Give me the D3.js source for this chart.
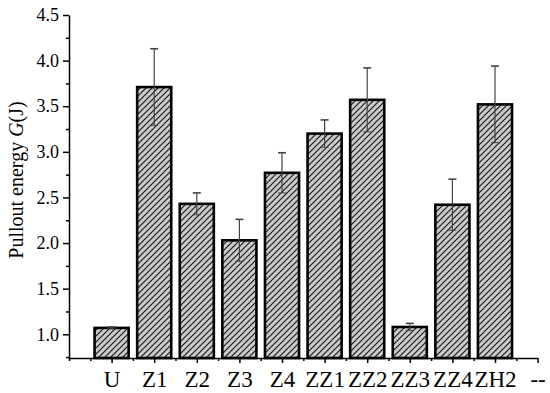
<!DOCTYPE html>
<html>
<head>
<meta charset="utf-8">
<script src="https://cdn.jsdelivr.net/npm/d3@7/dist/d3.min.js"></script>
<style>
  html, body { margin: 0; padding: 0; background: #fff; }
</style>
</head>
<body>
<svg id="chart" width="550" height="393"></svg>
<script>
// ---- data ----
const categories = ["U", "Z1", "Z2", "Z3", "Z4", "ZZ1", "ZZ2", "ZZ3", "ZZ4", "ZH2", "--"];
const values = [1.07, 3.71, 2.43, 2.03, 2.77, 3.20, 3.57, 1.08, 2.42, 3.52];
const errors = [0.01, 0.42, 0.12, 0.23, 0.22, 0.15, 0.35, 0.04, 0.28, 0.42];
const yTicks = [1.0, 1.5, 2.0, 2.5, 3.0, 3.5, 4.0, 4.5];
const yMinorTicks = [0.75, 1.25, 1.75, 2.25, 2.75, 3.25, 3.75, 4.25];

const SERIF = '"Liberation Serif", "Times New Roman", Tinos, serif';
const svg = d3.select("#chart");
const x = d3.scaleLinear().domain([-1, categories.length - 1]).range([69, 537.6]);
const y = d3.scaleLinear().domain([0.74, 4.5]).range([358, 15]);
const step = x(1) - x(0);
const barW = step * 0.8;

// hatch pattern
const defs = svg.append("defs");
const P = 6;
const pat = defs.append("pattern")
  .attr("id", "hatch").attr("patternUnits", "userSpaceOnUse")
  .attr("width", P).attr("height", P);
pat.append("rect").attr("width", P).attr("height", P).attr("fill", "#cacaca");
pat.append("path")
  .attr("d", `M-1,${P + 1} L${P + 1},-1 M-1,1 L1,-1 M${P - 1},${P + 1} L${P + 1},${P - 1}`)
  .attr("stroke", "#1a1a1a").attr("stroke-width", 1.2);

// bars
const data = values.map((v, i) => ({ c: categories[i], v, e: errors[i], i }));
svg.append("g").selectAll("rect").data(data).join("rect")
  .attr("x", d => x(d.i) - barW / 2)
  .attr("y", d => y(d.v))
  .attr("width", barW)
  .attr("height", d => y(0.74) - y(d.v))
  .attr("fill", "url(#hatch)")
  .attr("stroke", "#000")
  .attr("stroke-width", 2.6);

// error bars
const eg = svg.append("g").attr("stroke", "#444").attr("fill", "none");
data.forEach(d => {
  const cx = x(d.i);
  eg.append("line").attr("x1", cx).attr("x2", cx)
    .attr("y1", y(d.v + d.e)).attr("y2", y(d.v - d.e)).attr("stroke-width", 1.2);
  eg.append("line").attr("x1", cx - 4).attr("x2", cx + 4)
    .attr("y1", y(d.v + d.e)).attr("y2", y(d.v + d.e)).attr("stroke-width", 1.6);
  eg.append("line").attr("x1", cx - 4).attr("x2", cx + 4)
    .attr("y1", y(d.v - d.e)).attr("y2", y(d.v - d.e)).attr("stroke-width", 1);
});

// y axis
const yAxis = svg.append("g").attr("transform", "translate(69,0)");
yAxis.call(d3.axisLeft(y).tickValues(yTicks).tickFormat(d3.format(".1f")).tickSize(6).tickSizeOuter(0).tickPadding(4));
yAxis.append("g").call(d3.axisLeft(y).tickValues(yMinorTicks).tickFormat("").tickSize(3).tickSizeOuter(0))
  .select(".domain").remove();
yAxis.selectAll("text").attr("font-size", 18).attr("fill", "#000").style("font-family", SERIF);
yAxis.selectAll("path, line").attr("stroke", "#000").attr("stroke-width", 1.5);

// x axis
const xAxis = svg.append("g").attr("transform", "translate(0,358)");
const majorX = d3.range(categories.length);
const minorX = d3.range(-1, categories.length - 1, 1).map(v => v + 0.5).concat([-1]);
xAxis.call(d3.axisBottom(x).tickValues(majorX).tickFormat(i => categories[i]).tickSize(5).tickSizeOuter(0).tickPadding(8));
xAxis.append("g").call(d3.axisBottom(x).tickValues(minorX).tickFormat("").tickSize(3).tickSizeOuter(0))
  .select(".domain").remove();
xAxis.selectAll("text").attr("font-size", 23).attr("fill", "#000").style("font-family", SERIF);
xAxis.selectAll("path, line").attr("stroke", "#000").attr("stroke-width", 1.5);

// y title
const t = svg.append("text")
  .attr("transform", "translate(22.5,180) rotate(-90)")
  .attr("text-anchor", "middle")
  .attr("font-size", 20)
  .attr("fill", "#000")
  .style("font-family", SERIF);
t.append("tspan").text("Pullout energy ");
t.append("tspan").attr("font-style", "italic").text("G");
t.append("tspan").text("(J)");
</script>
</body>
</html>
